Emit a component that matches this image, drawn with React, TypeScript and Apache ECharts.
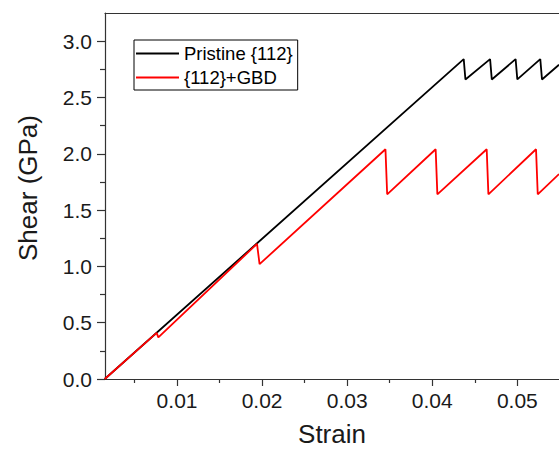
import React, { useEffect, useRef } from "react";
import * as echarts from "echarts";

const pristineStrain = [0.0015, 0.0437, 0.0439, 0.0468, 0.047, 0.0498, 0.05, 0.0527, 0.0529, 0.0549];
const pristineShear = [0, 2.84, 2.66, 2.84, 2.66, 2.84, 2.66, 2.84, 2.66, 2.79];

const gbdStrain = [0.0015, 0.0076, 0.0078, 0.0194, 0.0197, 0.0345, 0.0347, 0.0404, 0.0406, 0.0464, 0.0466, 0.0522, 0.0524, 0.0549];
const gbdShear = [0, 0.41, 0.37, 1.2, 1.02, 2.04, 1.64, 2.04, 1.64, 2.04, 1.64, 2.04, 1.64, 1.82];

const xMajorTicks = [0.01, 0.02, 0.03, 0.04, 0.05];
const xMinorTicks = [0.005, 0.015, 0.025, 0.035, 0.045];
const yMajorTicks = [0, 0.5, 1.0, 1.5, 2.0, 2.5, 3.0];
const yMinorTicks = [0.25, 0.75, 1.25, 1.75, 2.25, 2.75];

const seriesNames = ["Pristine {112}", "{112}+GBD"];

const FONT = '"Liberation Sans", Arial, sans-serif';
const AXIS_COLOR = "#333";

export default function App() {
  const ref = useRef<HTMLDivElement>(null);
  useEffect(() => {
    if (!ref.current) return;
    const chart = echarts.init(ref.current, null, { renderer: "svg" });
    const xMin = 0.00153;
    const xMax = 0.0549;
    const yMin = 0;
    const yMax = 3.25;
    const gridBox = { left: 105, right: 0, top: 13, bottom: 71, containLabel: false, outerBoundsMode: "none" };
    const tickLine = { color: AXIS_COLOR, width: 1.2 };
    chart.setOption({
      animation: false,
      backgroundColor: "#fff",
      textStyle: { fontFamily: FONT },
      grid: [gridBox, { ...gridBox }],
      legend: {
        left: 134,
        top: 40,
        orient: "vertical",
        data: seriesNames,
        icon: "rect",
        itemWidth: 43,
        itemHeight: 2,
        itemGap: 5,
        padding: [4, 5, 3, 2],
        borderColor: "#000",
        borderWidth: 1,
        textStyle: { fontFamily: FONT, fontSize: 18.5, color: "#000" },
      },
      xAxis: [
        {
          gridIndex: 0,
          type: "value",
          min: xMin,
          max: xMax,
          position: "bottom",
          splitLine: { show: false },
          axisLine: { show: true, onZero: false, lineStyle: tickLine },
          axisTick: { show: true, inside: false, length: 7, customValues: xMajorTicks, lineStyle: tickLine },
          axisLabel: {
            customValues: xMajorTicks,
            formatter: (v: number) => v.toFixed(2),
            fontSize: 21,
            color: "#1a1a1a",
            margin: 11,
            fontFamily: FONT,
          },
          name: "Strain",
          nameLocation: "middle",
          nameGap: 42,
          nameTextStyle: { fontSize: 26, lineHeight: 26, color: "#1a1a1a", fontFamily: FONT },
        },
        {
          gridIndex: 0,
          type: "value",
          min: xMin,
          max: xMax,
          position: "top",
          splitLine: { show: false },
          axisLine: { show: true, onZero: false, lineStyle: tickLine },
          axisTick: { show: false },
          axisLabel: { show: false },
        },
        {
          gridIndex: 1,
          type: "value",
          min: xMin,
          max: xMax,
          position: "bottom",
          splitLine: { show: false },
          axisLine: { show: false, onZero: false },
          axisTick: { show: true, inside: false, length: 4, customValues: xMinorTicks, lineStyle: tickLine },
          axisLabel: { show: false },
        },
      ],
      yAxis: [
        {
          gridIndex: 0,
          type: "value",
          min: yMin,
          max: yMax,
          position: "left",
          splitLine: { show: false },
          axisLine: { show: true, onZero: false, lineStyle: tickLine },
          axisTick: { show: true, inside: false, length: 8, customValues: yMajorTicks, lineStyle: tickLine },
          axisLabel: {
            customValues: yMajorTicks,
            formatter: (v: number) => v.toFixed(1),
            fontSize: 21,
            color: "#1a1a1a",
            margin: 13,
            fontFamily: FONT,
          },
          name: "Shear (GPa)",
          nameLocation: "middle",
          nameGap: 64,
          nameTextStyle: { fontSize: 26, color: "#1a1a1a", fontFamily: FONT, padding: [0, 0, 0, 16] },
        },
        {
          gridIndex: 1,
          type: "value",
          min: yMin,
          max: yMax,
          position: "left",
          splitLine: { show: false },
          axisLine: { show: false, onZero: false },
          axisTick: { show: true, inside: false, length: 5, customValues: yMinorTicks, lineStyle: tickLine },
          axisLabel: { show: false },
        },
      ],
      series: [
        {
          name: seriesNames[0],
          type: "line",
          xAxisIndex: 0,
          yAxisIndex: 0,
          symbol: "none",
          lineStyle: { color: "#000", width: 1.8 },
          itemStyle: { color: "#000" },
          data: pristineStrain.map((s, i) => [s, pristineShear[i]]),
        },
        {
          name: seriesNames[1],
          type: "line",
          xAxisIndex: 0,
          yAxisIndex: 0,
          symbol: "none",
          lineStyle: { color: "#ff0000", width: 1.8 },
          itemStyle: { color: "#ff0000" },
          data: gbdStrain.map((s, i) => [s, gbdShear[i]]),
        },
      ],
    });
    return () => chart.dispose();
  }, []);
  return (
    <div
      ref={ref}
      style={{ position: "fixed", left: 0, top: 0, width: 559, height: 450, background: "#fff" }}
    />
  );
}
